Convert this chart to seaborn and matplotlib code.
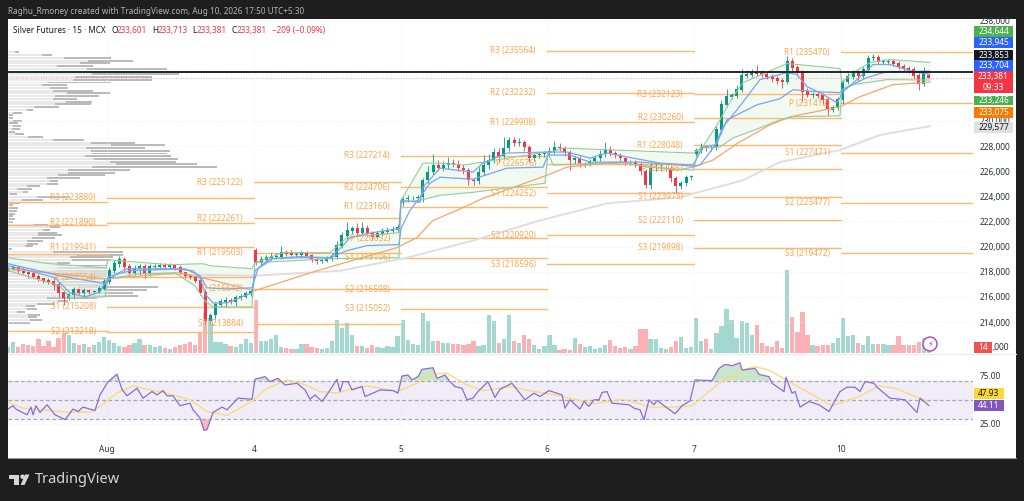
import numpy as np
import matplotlib
matplotlib.use("Agg")
import matplotlib.pyplot as plt
from matplotlib.patches import Rectangle, Polygon, Ellipse
from matplotlib.ticker import FuncFormatter
import seaborn as sns

# prices in thousands, one candle per half hour (15 min chart thinned by two)
close = [
    218.24, 218.32, 218.08, 217.92, 217.84, 217.6, 217.44, 217.28, 217.2, 216.96, 216.32, 215.92, 216.16, 216.56, 216.32, 216.48, 216.4, 216.4, 216.64, 217.2,
    218.08, 218.64, 218.96, 218.4, 217.92, 218.24, 218.4, 217.84, 218.4, 218.4, 218.48, 218.4, 218.48, 218.32, 217.92, 217.68, 217.6, 217.28, 216.32, 214.08, 214.56, 215.36, 215.6, 215.68, 215.6, 215.92, 216.0, 216.24, 216.4,
    218.72, 218.96, 219.12, 219.2, 219.2, 219.52, 219.44, 219.36, 219.36, 219.44, 219.28, 218.96, 218.88, 218.88, 219.04, 219.2, 220.08, 220.88, 221.28, 221.44, 221.12, 221.44, 221.04, 220.8, 221.04, 221.2, 221.28, 221.36, 221.52,
    223.76, 223.84, 223.84, 223.92, 225.28, 225.92, 226.48, 226.24, 226.48, 226.64, 226.56, 226.24, 226.08, 225.28, 225.2, 225.92, 226.48, 226.88, 227.52, 227.2, 227.84, 228.4, 228.24, 228.24, 227.92, 227.04, 227.28, 227.36, 227.44,
    227.6, 227.92, 227.84, 227.52, 226.88, 227.04, 226.64, 226.64, 226.8, 227.04, 227.36, 227.68, 227.44, 227.28, 227.04, 226.72, 226.72, 226.56, 226.0, 224.88, 226.24, 226.24, 226.24, 226.24, 225.44, 224.8, 225.04, 225.52, 225.6,
    227.68, 227.92, 227.84, 227.92, 229.28, 231.28, 231.92, 232.0, 232.48, 233.6, 233.68, 233.84, 233.76, 233.68, 233.52, 233.36, 233.2, 233.12, 234.72, 234.24, 233.84, 232.32, 232.08, 232.08, 232.0, 231.68, 230.88, 231.04, 231.68,
    233.12, 233.52, 233.84, 233.6, 234.08, 234.96, 235.04, 234.72, 234.72, 234.72, 234.56, 234.32, 234.16, 234.08, 233.6, 232.96, 233.92, 233.381,
]
gap_open = {49: 219.68, 78: 223.44, 136: 227.4, 182: 233.601}
wick_up = [
    .1, .2, .1, .3, .1, .2, .2, .1, .2, .3, .2, .2, .1, .2, .1, .2, .1, .1, .2, .2,
    .3, .3, .3, .2, .2, .3, .2, .2, .2, .2, .2, .2, .2, .1, .2, .1, .1, .1, .2, .3, .2, .2, .2, .3, .2, .2, .2, .2, .2,
    .2, .3, .2, .3, .3, .5, .2, .3, .2, .2, .2, .1, .2, .2, .2, .3, .4, .3, .7, .2, .4, .5, .3, .2, .2, .3, .3, .3, .3,
    .2, .3, .2, .2, .2, .5, .9, .4, .3, .5, .3, .3, .3, .2, .2, .4, .8, .5, .3, .3, .9, .3, .3, .4, .2, .2, .2, .2, .2,
    .3, .5, .3, .2, .2, .2, .2, .1, .2, .2, .3, .6, .3, .2, .2, .1, .2, .2, .2, .2, .4, .3, .3, .2, .2, .2, .2, .2, .1,
    .2, .3, .2, .2, .3, .4, .6, .2, .4, .5, .4, .3, .6, .3, .2, .2, .2, .2, .4, .3, .2, .2, .3, .2, .3, .2, .2, .2, .2,
    .2, .3, .2, .2, .2, .3, .3, .2, .2, .2, .2, .2, .2, .2, .2, .2, .4, .11,
]
wick_down = [
    .2, .1, .2, .1, .3, .1, .2, .2, .2, .4, .3, .6, .2, .3, .2, .4, .2, .2, .1, .1,
    .2, .2, .3, .3, .3, .2, .5, .3, .2, .2, .2, .2, .2, .2, .1, .2, .2, .2, .2, .2, .3, .3, .2, .4, .2, .3, .2, .1, .2,
    .2, .2, .1, .2, .2, .2, .2, .1, .2, .2, .1, .2, .3, .2, .1, .2, .2, .2, .3, .3, .3, .2, .2, .3, .2, .2, .1, .2, .2,
    .2, .2, .2, .3, .4, .2, .2, .2, .2, .3, .2, .2, .3, .4, .3, .2, .2, .3, .2, .5, .2, .2, .2, .2, .3, .3, .2, .2, .2,
    .2, .2, .2, .3, .8, .3, .3, .3, .2, .2, .2, .2, .2, .2, .2, .2, .2, .2, .3, .2, .3, .2, .2, .2, .3, .5, .2, .2, .2,
    .2, .2, .2, .2, .2, .3, .2, .2, .2, .2, .2, .2, .2, .2, .2, .3, .3, .5, .2, .4, .3, .8, .2, .3, .2, .3, .4, .2, .2,
    .3, .2, .2, .4, .2, .2, .2, .2, .2, .2, .2, .2, .2, .3, .3, .5, .2, .0,
]
volume = [
    42, 77, 42, 63, 56, 49, 98, 49, 84, 42, 105, 140, 126, 70, 56, 63, 42, 56, 77, 112,
    91, 70, 49, 42, 56, 70, 98, 56, 56, 42, 49, 35, 28, 42, 56, 63, 77, 56, 140, 280, 245, 77, 77, 63, 49, 42, 63, 98, 70,
    371, 84, 84, 98, 126, 42, 35, 28, 28, 63, 63, 42, 35, 28, 35, 84, 231, 175, 210, 126, 49, 49, 35, 56, 42, 35, 49, 42, 119,
    231, 91, 63, 56, 280, 224, 84, 84, 70, 70, 63, 63, 56, 63, 84, 49, 56, 266, 224, 70, 98, 266, 84, 70, 126, 98, 56, 28, 49,
    126, 56, 21, 28, 21, 105, 63, 42, 49, 28, 35, 56, 91, 49, 35, 42, 28, 49, 168, 168, 98, 98, 35, 28, 42, 84, 112, 35, 42,
    245, 84, 98, 28, 140, 189, 308, 231, 105, 224, 210, 126, 196, 70, 49, 42, 84, 35, 581, 252, 147, 287, 126, 56, 49, 56, 56, 70, 105,
    245, 119, 126, 70, 56, 119, 63, 63, 63, 56, 56, 119, 56, 56, 56, 77, 105, 14,
]

# day starts on the time scale
day_pos = [107, 254, 401, 547, 694, 841]
day_labels = ["Aug", "4", "5", "6", "7", "10"]

# moving averages
ema_t = [8, 107, 180, 215, 254, 317, 397, 417, 433, 457, 483, 547, 567, 607, 640, 677, 693, 713, 738, 770, 790, 840, 860, 893, 930]
ema_p = [218.24, 217.44, 217.92, 217.28, 216.48, 218.08, 219.92, 220.72, 222.08, 222.88, 223.84, 225.68, 226.32, 226.64, 226.48, 226.08, 226.32, 226.88, 228.24, 229.68, 230.32, 231.12, 231.92, 232.88, 233.075]
slow_t = [8, 107, 200, 253, 340, 407, 473, 540, 607, 680, 743, 780, 840, 880, 930]
slow_p = [218.08, 217.92, 217.76, 217.68, 218.08, 219.12, 220.48, 222.08, 223.44, 223.92, 225.28, 226.72, 227.68, 228.88, 229.577]

# session band, green edges and two blue lines
upper_t = [8, 50, 106, 108, 120, 170, 203, 210, 252, 255, 283, 330, 347, 399, 401, 423, 440, 463, 483, 546, 548, 563, 693, 702, 717, 733, 743, 757, 787, 840, 842, 853, 870, 890, 930]
upper_p = [219.12, 218.64, 218.32, 218.96, 218.88, 218.56, 218.64, 218.48, 218.24, 218.72, 219.52, 219.52, 220.72, 221.12, 223.68, 226.64, 226.64, 226.48, 226.72, 227.52, 227.44, 227.84, 227.44, 227.84, 229.68, 231.92, 233.04, 233.52, 234.56, 234.16, 233.04, 233.84, 234.64, 234.88, 234.644]
lower_t = [8, 60, 70, 105, 108, 140, 175, 195, 205, 213, 252, 255, 330, 399, 401, 420, 440, 473, 545, 548, 553, 623, 647, 693, 700, 720, 733, 760, 780, 793, 840, 842, 853, 887, 930]
lower_p = [218.08, 216.88, 215.92, 216.0, 217.44, 217.84, 217.92, 216.88, 215.68, 215.2, 215.2, 218.72, 219.04, 219.12, 223.52, 223.68, 224.08, 224.32, 225.04, 227.44, 226.48, 226.72, 226.32, 226.08, 227.84, 227.92, 228.64, 229.44, 230.08, 230.32, 230.4, 232.48, 232.88, 233.28, 233.246]
blue1_t = [8, 30, 55, 70, 85, 100, 106, 108, 117, 127, 173, 193, 200, 205, 213, 227, 252, 255, 270, 300, 330, 343, 350, 367, 399, 401, 420, 423, 440, 473, 483, 507, 546, 550, 567, 590, 607, 633, 660, 693, 703, 715, 723, 737, 760, 787, 797, 807, 820, 837, 840, 842, 857, 873, 890, 913, 930]
blue1_p = [218.48, 218.08, 217.52, 216.32, 216.0, 216.4, 217.28, 217.28, 217.84, 218.24, 218.24, 218.08, 217.52, 216.24, 215.52, 215.52, 216.32, 218.08, 219.04, 219.2, 219.12, 220.08, 220.72, 221.04, 221.44, 223.68, 223.52, 224.72, 226.24, 225.92, 226.64, 227.44, 227.52, 227.52, 227.52, 227.04, 227.44, 227.04, 226.64, 226.48, 227.92, 228.08, 229.52, 230.88, 233.28, 233.84, 233.68, 232.72, 232.24, 231.44, 231.84, 232.24, 233.28, 234.48, 234.48, 233.92, 233.704]
blue2_t = [8, 60, 106, 108, 130, 185, 200, 207, 225, 252, 258, 273, 300, 330, 347, 367, 399, 401, 410, 420, 430, 440, 473, 507, 543, 548, 570, 590, 640, 693, 700, 717, 727, 757, 780, 793, 817, 840, 842, 867, 887, 930]
blue2_p = [218.64, 217.68, 217.04, 217.6, 218.08, 218.24, 217.68, 216.72, 216.64, 216.72, 218.24, 219.04, 219.12, 219.12, 219.68, 220.08, 220.16, 221.44, 222.88, 223.92, 225.04, 225.52, 225.36, 226.24, 226.32, 227.28, 227.28, 226.72, 226.72, 226.4, 226.48, 228.24, 230.08, 231.28, 231.76, 232.48, 232.32, 232.24, 232.48, 233.44, 233.92, 233.945]

# pivot levels per session, in rupees
pivot_start = [8, 107, 254, 401, 547, 694, 841]
pivot_end = [107, 254, 401, 547, 694, 841, 973]
pivot_names = [
    [],
    ["R3", "R2", "R1", "P", "S1", "S2"],
    ["R3", "R2", "R1", "P", "S1"],
    ["R3", "R2", "R1", "P", "S1", "S2", "S3"],
    ["R3", "R2", "R1", "P", "S1", "S2", "S3"],
    ["R3", "R2", "R1", "P", "S1", "S2", "S3"],
    ["R1", "P", "S1", "S2", "S3"],
]
pivot_levels = [
    [223540, 221680, 219440, 213280],
    [223880, 221890, 219941, 217554, 215208, 213218],
    [225122, 222261, 219503, 216642, 213884],
    [227214, 224706, 223160, 220652, 219106, 216598, 215052],
    [235564, 232232, 229908, 226576, 224252, 220920, 218596],
    [232123, 230260, 228048, 226185, 223973, 222110, 219898],
    [235470, 231412, 227471, 223477, 219472],
]

# visible range volume profile, top row first
vp_total = [
    11, 44, 103, 125, 102, 85, 159, 239, 171, 144, 144, 103, 59, 60, 85, 102, 91, 69, 84, 83, 51, 25, 14, 5, 5, 14, 10, 13, 12, 7, 16, 35, 76, 127, 157, 137, 162, 159, 163, 170, 168, 189, 209,
    122, 107, 97, 72, 50, 50, 32, 24, 20, 9, 62, 35, 12, 5, 10, 9, 7, 5, 7, 5, 40, 52, 42, 49, 54, 47, 35, 30, 25, 4, 115, 115, 105, 102, 62,
    99, 99, 99, 99, 99, 97, 95, 97, 150, 139, 125, 130, 89, 60, 47, 27, 29, 17, 32, 29, 34, 22,
]
vp_light = [
    7, 34, 56, 80, 72, 49, 79, 107, 84, 67, 65, 40, 34, 42, 45, 59, 47, 45, 58, 47, 26, 19, 5, 1, 1, 5, 1, 5, 4, 1, 7, 20, 45, 83, 103, 78, 83, 84, 77, 86, 102, 108, 84,
    60, 60, 50, 39, 42, 39, 19, 9, 15, 2, 29, 14, 2, 1, 1, 1, 1, 1, 1, 1, 25, 42, 35, 30, 30, 24, 19, 19, 17, 1, 45, 69, 62, 64, 49,
    47, 49, 47, 47, 47, 47, 49, 45, 70, 57, 55, 59, 39, 50, 29, 18, 19, 9, 20, 20, 22, 1,
]
vp_top = 235.44
vp_row = 0.2172

# rsi pane
rsi_t = [8, 13, 16, 27, 31, 33, 36, 40, 47, 55, 65, 73, 78, 83, 95, 100, 108, 117, 122, 127, 137, 143, 152, 157, 163, 167, 173, 180, 190, 193, 200, 204, 207, 213, 222, 227, 238, 252, 255, 265, 270, 278, 285, 297, 305, 310, 315, 322, 328, 337, 340, 343, 348, 352, 362, 365, 373, 380, 393, 398, 402, 408, 412, 418, 422, 433, 437, 445, 450, 455, 462, 467, 473, 478, 488, 495, 500, 512, 525, 534, 540, 549, 562, 565, 570, 580, 584, 589, 594, 599, 602, 607, 612, 629, 634, 640, 644, 649, 654, 657, 675, 682, 690, 695, 712, 719, 725, 732, 740, 742, 755, 759, 769, 772, 784, 786, 792, 795, 800, 809, 819, 829, 840, 847, 855, 860, 865, 874, 877, 890, 905, 917, 920, 929]
rsi_v = [40.5, 44, 40.5, 34.6, 42.6, 34.6, 44, 37, 45, 34.6, 29.5, 40.5, 38, 42.6, 39, 55.3, 69, 77, 61, 54.3, 62.2, 51.9, 58.8, 55.3, 59.8, 54.3, 54.3, 44, 46.7, 39.8, 31.2, 18.4, 19.1, 37, 42.6, 39.8, 51.9, 50.8, 71.6, 74.3, 69.1, 72.6, 65.7, 67.4, 60.5, 50.8, 55.3, 48.4, 57.1, 71.6, 58.8, 69.1, 69.1, 60.5, 64, 53.6, 57.1, 60.5, 59.8, 57.1, 75, 76, 70.9, 74.3, 81.9, 83.6, 72.6, 76, 69.1, 64, 62.2, 50.2, 51.9, 58.8, 69.1, 52.6, 61.2, 67.4, 50.2, 57.1, 53.6, 59.8, 55.3, 41.5, 50.2, 40.5, 48.4, 43.3, 50.2, 50.2, 57.8, 58.8, 46.7, 45, 41.5, 39.8, 29.5, 50.2, 45, 49.5, 35.7, 44, 49.1, 70.9, 70.2, 82.9, 87.1, 85.7, 88.8, 81.2, 82.9, 76.7, 74.3, 67.4, 58.8, 73.6, 57.1, 58.8, 42.6, 48.4, 45, 38.1, 58.8, 63.3, 63.3, 58.8, 69.1, 67.4, 63.3, 51.9, 50.2, 37, 51.9, 44.11]
rsi_ma_t = [8, 23, 43, 67, 90, 100, 117, 133, 147, 167, 190, 207, 227, 240, 253, 267, 287, 300, 320, 337, 353, 367, 397, 417, 433, 447, 467, 483, 512, 529, 555, 595, 622, 652, 672, 692, 719, 745, 755, 769, 795, 832, 859, 879, 895, 929]
rsi_ma_v = [47.4, 41.5, 39.8, 37.4, 37.4, 43.3, 57.1, 64.7, 61.2, 57.1, 50.2, 38.1, 33.9, 41.5, 49.5, 62.2, 70.9, 68.1, 58.8, 57.1, 62.2, 64.7, 58.8, 67.4, 77, 77.8, 65.7, 59.8, 64, 59.8, 55.3, 46, 50.8, 42.6, 42.6, 44, 67.4, 81.9, 84.7, 81.2, 65.7, 44, 53.6, 64.7, 62.2, 47.93]

# ticks under the coloured tags are left out, as they cannot be read there
price_ticks = [214, 216, 218, 220, 222, 224, 226, 228, 230, 238]

# text tags on the price scale: top, bottom, text, fill, text colour
tag_top = [26, 37, 50, 60, 71, 96, 107, 122]
tag_bottom = [37, 48, 60, 71, 93, 105, 118, 133]
tag_text = ["234,644", "233,945", "233,853", "233,704", "233,381\n09:33", "233,246", "233,075", "229,577"]
tag_fill = ["#4caf50", "#2962ff", "#131722", "#2962ff", "#f23645", "#4caf50", "#f57c00", "#e0e0e0"]
tag_color = ["white", "white", "white", "white", "white", "white", "white", "#131722"]

sns.set_theme(style="white")
plt.rcParams['font.family'] = ['Noto Sans', 'DejaVu Sans']

W, H = 1024, 501
fig = plt.figure(figsize=(W / 100, H / 100), dpi=100, facecolor="#1e1e1e")

bg = fig.add_axes([0, 0, 1, 1], zorder=-1)
bg.set_xlim(0, W)
bg.set_ylim(H, 0)
bg.axis("off")
bg.add_patch(Rectangle((8, 19), 1008, 439, facecolor="white", edgecolor="none"))
bg.plot([8, 1016], [458, 458], color="#9a9a9a", linewidth=0.8)
bg.plot([8, 1016], [354, 354], color="#eeeeee", linewidth=1)


def pane(top, bottom):
    return fig.add_axes([8 / W, 1 - bottom / H, 965 / W, (bottom - top) / H], facecolor="none")


ax = pane(19, 353)
vol_ax = ax.twinx()
vp_ax = ax.twiny()
ax.set_zorder(3)
vol_ax.set_zorder(2)
vp_ax.set_zorder(1)
ax.patch.set_visible(False)
vol_ax.patch.set_visible(False)
vp_ax.patch.set_visible(False)

# candles
t = 8 + np.arange(len(close)) * 5.06
close_a = np.array(close)
open_a = np.r_[close_a[0], close_a[:-1]]
for i, v in gap_open.items():
    open_a[i] = v
high_a = np.maximum(open_a, close_a) + np.array(wick_up)
low_a = np.minimum(open_a, close_a) - np.array(wick_down)
up = close_a >= open_a
colors = np.where(up, "#089981", "#f23645")

# volume
sns.barplot(x=t, y=volume, hue=np.where(up, "up", "down"),
            palette={"up": "#a3d8d1", "down": "#fab1b5"}, saturation=1,
            native_scale=True, dodge=False, width=0.85, legend=False, linewidth=0, ax=vol_ax)
vol_ax.set_ylim(0, 334 * 7)
vol_ax.set(xlabel="", ylabel="")
vol_ax.yaxis.set_visible(False)
vol_ax.xaxis.set_visible(False)

# volume profile
rows = vp_top - np.arange(len(vp_total)) * vp_row
vp_ax.barh(rows, vp_total, height=vp_row * 0.72, color="#bababa", linewidth=0)
vp_ax.barh(rows, vp_light, height=vp_row * 0.72, color="#e9e9e9", linewidth=0)
vp_ax.set_xlim(0, 965)
vp_ax.xaxis.set_visible(False)

# band fill
grid_t = np.arange(8, 930.5, 0.5)
ax.fill_between(grid_t, np.interp(grid_t, upper_t, upper_p), np.interp(grid_t, lower_t, lower_p),
                color="#e8f5e9", alpha=0.6, linewidth=0, zorder=1)

# pivots
for start, end, names, levels in zip(pivot_start, pivot_end, pivot_names, pivot_levels):
    for j, level in enumerate(levels):
        ax.plot([start, end], [level / 1000, level / 1000], color="#ffb870", linewidth=1, zorder=2)
        if names:
            ax.text(start - 11, level / 1000, f"{names[j]} ({level})", color="#ffa64d", fontsize=6,
                    ha="right", va="center", zorder=6)

ax.vlines(t, low_a, high_a, colors=colors, linewidth=0.7, alpha=0.85, zorder=3)
ax.bar(t, np.abs(close_a - open_a) + 0.04, bottom=np.minimum(open_a, close_a), width=3, color=colors,
       linewidth=0, zorder=3)

sns.lineplot(x=slow_t, y=slow_p, color="#dedede", linewidth=1.4, ax=ax, zorder=2.5)
sns.lineplot(x=ema_t, y=ema_p, color="#f7a565", linewidth=0.9, ax=ax, zorder=4)
sns.lineplot(x=upper_t, y=upper_p, color="#93cc9b", linewidth=0.8, ax=ax, zorder=4)
sns.lineplot(x=lower_t, y=lower_p, color="#93cc9b", linewidth=0.8, ax=ax, zorder=4)
sns.lineplot(x=blue1_t, y=blue1_p, color="#7aa3f2", linewidth=0.9, ax=ax, zorder=4)
sns.lineplot(x=blue2_t, y=blue2_p, color="#7aa3f2", linewidth=0.9, ax=ax, zorder=4)

ax.plot([8, 973], [233.853, 233.853], color="#131722", linewidth=1.3, zorder=5)
ax.plot([8, 973], [233.381, 233.381], color="#f23645", linewidth=0.6, linestyle=(0, (1, 2)), alpha=0.6, zorder=5)

ax.set_xlim(8, 973)
ax.set_ylim(211.54, 238.10)
ax.set_yticks(price_ticks)
ax.set_xticks(day_pos)
ax.yaxis.tick_right()
ax.yaxis.set_major_formatter(FuncFormatter(lambda v, _: f"{v * 1000:,.0f}"))
ax.tick_params(axis="y", length=0, labelsize=6, pad=5, labelcolor="#2a2e39")
ax.tick_params(axis="x", length=0, labelbottom=False)
ax.set(xlabel="", ylabel="")
ax.grid(True, color="#ececec", linewidth=0.6, linestyle=(0, (1, 2)))
ax.set_axisbelow(True)
sns.despine(ax=ax, left=True, right=True, top=True, bottom=True)
for a in (vol_ax, vp_ax):
    sns.despine(ax=a, left=True, right=True, top=True, bottom=True)

# rsi
rax = pane(354, 438)
rax.axhspan(30, 70, color="#7e57c2", alpha=0.1, linewidth=0)
for lv in (30, 50, 70):
    rax.axhline(lv, color="#a8a3b3", linewidth=0.9, linestyle=(0, (3, 2)))
rsi_fine = np.interp(grid_t, rsi_t, rsi_v)
rax.fill_between(grid_t, 70, rsi_fine, where=rsi_fine > 70, color="#4caf50", alpha=0.3, linewidth=0)
rax.fill_between(grid_t, 30, rsi_fine, where=rsi_fine < 30, color="#f23645", alpha=0.35, linewidth=0)
sns.lineplot(x=rsi_ma_t, y=rsi_ma_v, color="#f7dc7a", linewidth=1, ax=rax)
sns.lineplot(x=rsi_t, y=rsi_v, color="#8a6ccf", linewidth=0.9, ax=rax)
rax.set_xlim(8, 973)
rax.set_ylim(10.4, 97.9)
rax.set_yticks([25, 75])
rax.set_yticklabels(["25.00", "75.00"])
rax.yaxis.tick_right()
rax.set_xticks(day_pos)
rax.set_xticklabels(day_labels)
rax.get_xticklabels()[0].set_fontweight("bold")
rax.tick_params(axis="y", length=0, labelsize=6, pad=5, labelcolor="#2a2e39")
rax.tick_params(axis="x", length=0, labelsize=6, pad=5, labelcolor="#2a2e39")
rax.set(xlabel="", ylabel="")
rax.grid(True, color="#ececec", linewidth=0.6, linestyle=(0, (1, 2)))
rax.set_axisbelow(True)
sns.despine(ax=rax, left=True, right=True, top=True, bottom=True)

# everything that sits in page coordinates
ov = fig.add_axes([0, 0, 1, 1], zorder=10, facecolor="none")
ov.set_xlim(0, W)
ov.set_ylim(H, 0)
ov.axis("off")

ov.text(8, 11, "Raghu_Rmoney created with TradingView.com, Aug 10, 2026 17:50 UTC+5:30",
        color="#b4b4b4", fontsize=5.9, va="center")

title_x = [13, 111, 117, 152, 158, 192, 197, 231, 237, 272]
title_s = ["Silver Futures · 15 · MCX", "O", "233,601", "H", "233,713", "L", "233,381", "C", "233,381", "−209 (−0.09%)"]
title_c = ["#131722", "#131722", "#f23645", "#131722", "#f23645", "#131722", "#f23645", "#131722", "#f23645", "#f23645"]
for x, s, c in zip(title_x, title_s, title_c):
    ov.text(x, 30, s, color=c, fontsize=5.9, va="center")

for top, bottom, s, fc, tc in zip(tag_top, tag_bottom, tag_text, tag_fill, tag_color):
    ov.add_patch(Rectangle((974, top), 39, bottom - top, facecolor=fc, edgecolor="none"))
    ov.text(993.5, (top + bottom) / 2, s, color=tc, fontsize=6, ha="center", va="center", linespacing=1.25)

# the 212,000 tick shows only its tail beside the volume tag
ov.add_patch(Rectangle((974, 342), 18, 11, facecolor="#f0524f", edgecolor="none"))
ov.text(983, 347.5, "14", color="white", fontsize=6, ha="center", va="center")
ov.text(993, 347.5, ",000", color="#2a2e39", fontsize=6, ha="left", va="center")

ov.add_patch(Rectangle((974, 388), 30, 11, facecolor="#fdd835", edgecolor="none"))
ov.text(989, 393.5, "47.93", color="#131722", fontsize=6, ha="center", va="center")
ov.add_patch(Rectangle((974, 400), 30, 11, facecolor="#7e57c2", edgecolor="none"))
ov.text(989, 405.5, "44.11", color="white", fontsize=6, ha="center", va="center")

ov.add_patch(Ellipse((930, 344), 14, 14, facecolor="white", edgecolor="#ab47bc", linewidth=1))
ov.text(930, 344, "⚡", color="#ab47bc", fontsize=6, ha="center", va="center", family="DejaVu Sans")

# logo
ov.add_patch(Polygon([(8.5, 474.5), (19, 474.5), (19, 485), (13.5, 485), (13.5, 479), (8.5, 479)], facecolor="#d6d6d6", edgecolor="none"))
ov.add_patch(Ellipse((22.5, 476.7), 4.4, 4.4, facecolor="#d6d6d6", edgecolor="none"))
ov.add_patch(Polygon([(20.7, 485), (24.5, 485), (29.5, 474.5), (25, 474.5)], facecolor="#d6d6d6", edgecolor="none"))
ov.text(35, 479.5, "TradingView", color="#d6d6d6", fontsize=10.5, va="center", fontweight="bold")

fig.savefig("out.png", dpi=100, facecolor=fig.get_facecolor())
